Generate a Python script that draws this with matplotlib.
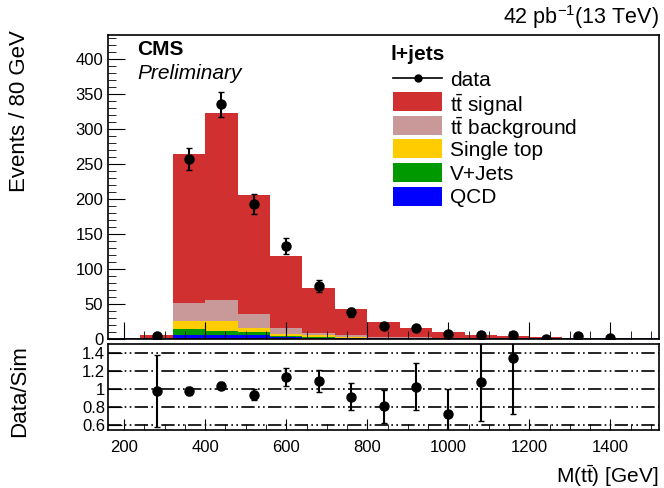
import matplotlib
matplotlib.use("Agg")
import matplotlib.pyplot as plt
import numpy as np
from matplotlib.lines import Line2D
from matplotlib.patches import Rectangle
from matplotlib.ticker import MultipleLocator, FixedLocator, FuncFormatter

plt.rcParams["font.family"] = ["Liberation Sans", "DejaVu Sans"]
plt.rcParams["mathtext.fontset"] = "custom"
plt.rcParams["mathtext.rm"] = "Liberation Sans"
plt.rcParams["mathtext.it"] = "Liberation Sans:italic"
plt.rcParams["mathtext.bf"] = "Liberation Sans:bold"

# 80 GeV bins from 240 to 1520 GeV
bin_edges = np.arange(240, 1521, 80)

qcd = [0.2, 6, 5, 5, 3, 2, 1, 0.5, 0.5, 0.3, 0.2, 0.2, 0.1, 0.1, 0.1, 0.1]
vjets = [0.2, 8, 6, 4.5, 1.5, 1.5, 0.7, 0.5, 0.3, 0.2, 0.2, 0.1, 0.1, 0.1, 0.1, 0.1]
single_top = [0.3, 12, 14, 6, 3, 2, 1, 0.6, 0.4, 0.3, 0.2, 0.2, 0.1, 0.1, 0.1, 0.1]
tt_background = [0.8, 26, 30, 20, 7.5, 3.5, 3, 1.5, 1, 0.6, 0.4, 0.3, 0.2, 0.2, 0.1, 0.1]
tt_signal = [3.5, 212, 268, 170, 104, 64, 37, 21, 14, 8.5, 4, 3, 2, 1.5, 1.2, 0.8]

data_x = [280, 360, 440, 520, 600, 680, 760, 840, 920, 1000, 1080, 1160, 1240, 1320, 1400]
data_y = [4, 257, 335, 193, 133, 76, 38, 19, 15, 7, 5, 5, 0, 4, 2]

ratio_x = [280, 360, 440, 520, 600, 680, 760, 840, 920, 1000, 1080, 1160]
ratio_y = [0.98, 0.98, 1.04, 0.94, 1.14, 1.09, 0.92, 0.81, 1.03, 0.73, 1.08, 1.34]
ratio_err = [0.40, 0.04, 0.04, 0.06, 0.10, 0.12, 0.15, 0.18, 0.26, 0.27, 0.43, 0.61]

components = [
    ("QCD", qcd, "#0000ff"),
    ("V+Jets", vjets, "#009a00"),
    ("Single top", single_top, "#ffcc00"),
    (r"$\mathrm{t\bar{t}}$ background", tt_background, "#c99999"),
    (r"$\mathrm{t\bar{t}}$ signal", tt_signal, "#d03030"),
]

W, H = 664, 488
fig = plt.figure(figsize=(W / 100, H / 100), dpi=100)
ax = fig.add_axes([108 / W, 1 - 339 / H, (659 - 108) / W, (339 - 35) / H])
rax = fig.add_axes([108 / W, 1 - 430 / H, (659 - 108) / W, (430 - 344) / H])


def fx(px):
    return px / W


def fy(py):
    return 1 - py / H


bottom = np.zeros(len(bin_edges) - 1)
for label, values, color in components:
    values = np.asarray(values, dtype=float)
    ax.bar(bin_edges[:-1], values, width=np.diff(bin_edges), bottom=bottom,
           align="edge", color=color, linewidth=0)
    bottom += values
ax.axhline(0, color="#1a1a70", linewidth=2)

yerr = np.sqrt(np.asarray(data_y, dtype=float))
ax.errorbar(data_x, data_y, yerr=yerr, fmt="o", color="black", markersize=6.5,
            elinewidth=1.5, capsize=2)

ax.set_xlim(160, 1520)
ax.set_ylim(0, 434)
ax.xaxis.set_major_locator(MultipleLocator(200))
ax.xaxis.set_minor_locator(MultipleLocator(50))
ax.yaxis.set_major_locator(MultipleLocator(50))
ax.yaxis.set_minor_locator(MultipleLocator(10))
ax.tick_params(axis="both", which="both", direction="in", top=False, right=False)
ax.tick_params(axis="y", which="major", length=12, labelsize=12)
ax.tick_params(axis="y", which="minor", length=6)
ax.tick_params(axis="x", which="major", length=12, labelbottom=False)
ax.tick_params(axis="x", which="minor", length=6)
ax.set_ylabel("Events / 80 GeV", fontsize=16, loc="top")
ax.yaxis.set_label_coords(-0.142, 1.015)

ax.text(0.053, 0.985, "CMS", transform=ax.transAxes, fontsize=15, fontweight="bold",
        va="top", ha="left")
ax.text(0.053, 0.905, "Preliminary", transform=ax.transAxes, fontsize=15,
        style="italic", va="top", ha="left")
fig.text(fx(659), fy(17), r"42 pb$^{-1}$(13 TeV)", fontsize=15.5, ha="right", va="center")

# legend, drawn by hand so the rows stay evenly spaced
fig.text(fx(391), fy(54), "l+jets", fontsize=15, fontweight="bold", ha="left", va="center")
legend_rows = [("data", None)] + [(label, color) for label, values, color in reversed(components)]
row_y = 78
for label, color in legend_rows:
    if color is None:
        fig.add_artist(Line2D([fx(393), fx(442)], [fy(row_y), fy(row_y)], color="black",
                              linewidth=1.2, marker=None, transform=fig.transFigure))
        fig.add_artist(Line2D([fx(417.5)], [fy(row_y)], color="black", marker="o",
                              markersize=5, transform=fig.transFigure))
    else:
        fig.add_artist(Rectangle((fx(393), fy(row_y + 9.5)), fx(49), 19 / H,
                                 facecolor=color, edgecolor="none", transform=fig.transFigure))
    fig.text(fx(450), fy(row_y), label, fontsize=15, ha="left", va="center_baseline")
    row_y += 23.6

# ratio panel
for level in [0.6, 0.8, 1.0, 1.2, 1.4]:
    rax.axhline(level, color="black", linewidth=1.2, dashes=(8, 2, 1, 2, 1, 2))
rax.errorbar(ratio_x, ratio_y, yerr=ratio_err, fmt="o", color="black", markersize=6.5,
             elinewidth=1.5, capsize=2)
rax.set_xlim(160, 1520)
rax.set_ylim(0.55, 1.5)
rax.yaxis.set_major_locator(FixedLocator([0.6, 0.8, 1.0, 1.2, 1.4]))
rax.yaxis.set_major_formatter(FuncFormatter(lambda v, pos: f"{v:g}"))
rax.xaxis.set_major_locator(MultipleLocator(200))
rax.xaxis.set_minor_locator(MultipleLocator(50))
rax.tick_params(axis="both", which="both", direction="in", top=False, right=False)
rax.tick_params(axis="y", which="major", length=10, labelsize=12, pad=2)
rax.tick_params(axis="x", which="major", length=8, labelsize=12, pad=7)
rax.tick_params(axis="x", which="minor", length=4)
rax.set_ylabel("Data/Sim", fontsize=16)
rax.yaxis.set_label_coords(-0.142, 0.45)
rax.set_xlabel(r"M($\mathrm{t\bar{t}}$) [GeV]", fontsize=15, loc="right", labelpad=6)

for a in (ax, rax):
    for spine in a.spines.values():
        spine.set_linewidth(1.2)

fig.savefig("out.png", dpi=100)
